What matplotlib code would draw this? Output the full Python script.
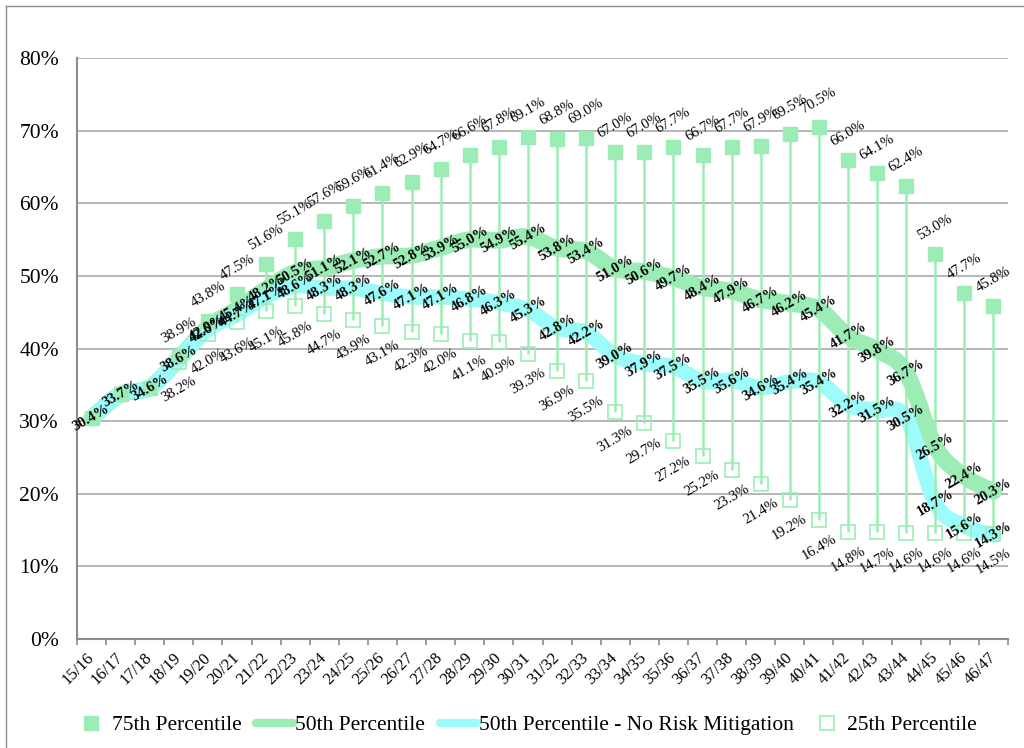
import numpy as np
import matplotlib
matplotlib.use("Agg")
import matplotlib.pyplot as plt
from matplotlib.path import Path
from matplotlib.patches import PathPatch
from matplotlib.lines import Line2D
from matplotlib.ticker import FuncFormatter, FixedLocator

plt.rcParams["font.family"] = ["Liberation Serif", "DejaVu Serif"]

SEASONS = ["15/16", "16/17", "17/18", "18/19", "19/20", "20/21", "21/22", "22/23",
           "23/24", "24/25", "25/26", "26/27", "27/28", "28/29", "29/30", "30/31",
           "31/32", "32/33", "33/34", "34/35", "35/36", "36/37", "37/38", "38/39",
           "39/40", "40/41", "41/42", "42/43", "43/44", "44/45", "45/46", "46/47"]

P75 = [30.4, 33.7, 34.6, 38.9, 43.8, 47.5, 51.6, 55.1, 57.6, 59.6, 61.4, 62.9,
       64.7, 66.6, 67.8, 69.1, 68.8, 69.0, 67.0, 67.0, 67.7, 66.7, 67.7, 67.9,
       69.5, 70.5, 66.0, 64.1, 62.4, 53.0, 47.7, 45.8]
P50 = [30.4, 33.7, 34.6, 38.6, 42.9, 45.4, 48.2, 50.5, 51.1, 52.1, 52.7, 52.8,
       53.9, 55.0, 54.9, 55.4, 53.8, 53.4, 51.0, 50.6, 49.7, 48.4, 47.9, 46.7,
       46.2, 45.4, 41.7, 39.8, 36.7, 26.5, 22.4, 20.3]
P50_NRM = [30.4, 33.7, 34.6, 38.6, 42.6, 44.7, 47.1, 48.6, 48.3, 48.3, 47.6, 47.1,
           47.1, 46.8, 46.3, 45.3, 42.8, 42.2, 39.0, 37.9, 37.5, 35.5, 35.6, 34.6,
           35.4, 35.4, 32.2, 31.5, 30.5, 18.7, 15.6, 14.3]
P25 = [None, None, None, 38.2, 42.0, 43.6, 45.1, 45.8, 44.7, 43.9, 43.1, 42.3,
       42.0, 41.1, 40.9, 39.3, 36.9, 35.5, 31.3, 29.7, 27.2, 25.2, 23.3, 21.4,
       19.2, 16.4, 14.8, 14.7, 14.6, 14.6, 14.6, 14.5]
FIRST_RANGE_LABEL = 3  # 75th/25th labels start at 18/19

GREEN = "#9BEDB5"
CYAN = "#9CFBFB"
GRID = "#A3A3A3"


def smooth_path(xs, ys):
    """Excel-style smoothed line as cubic bezier segments."""
    pts = np.column_stack([xs, ys]).astype(float)
    verts = [pts[0]]
    codes = [Path.MOVETO]
    n = len(pts)
    for i in range(n - 1):
        p0 = pts[i - 1] if i > 0 else pts[i]
        p1, p2 = pts[i], pts[i + 1]
        p3 = pts[i + 2] if i + 2 < n else pts[i + 1]
        verts += [p1 + (p2 - p0) / 6.0, p2 - (p3 - p1) / 6.0, p2]
        codes += [Path.CURVE4] * 3
    return Path(verts, codes)


x = np.arange(len(SEASONS))
p75 = np.array(P75, dtype=float)
p50 = np.array(P50, dtype=float)
nrm = np.array(P50_NRM, dtype=float)
p25 = np.array([np.nan if v is None else v for v in P25], dtype=float)

fig = plt.figure(figsize=(10.24, 7.48), dpi=100)
ax = fig.add_axes([77 / 1024, 109 / 748, 931 / 1024, 581 / 748])

# outer chart frame (top and left edges)
fig.add_artist(Line2D([6 / 1024, 1.0], [1 - 6 / 748, 1 - 6 / 748],
                      transform=fig.transFigure, color="#8C8C8C", lw=1.0))
fig.add_artist(Line2D([6 / 1024, 6 / 1024], [0.0, 1 - 6 / 748],
                      transform=fig.transFigure, color="#8C8C8C", lw=1.0))

# median bands
ax.add_patch(PathPatch(smooth_path(x, p50), fill=False, edgecolor=GREEN, lw=12,
                       capstyle="round", joinstyle="round", zorder=2))
ax.add_patch(PathPatch(smooth_path(x, nrm), fill=False, edgecolor=CYAN, lw=11,
                       capstyle="round", joinstyle="round", zorder=3))

# high-low lines across all series
stack = np.vstack([p75, p50, nrm, p25])
ax.vlines(x, np.nanmin(stack, axis=0), np.nanmax(stack, axis=0),
          color=GREEN, lw=1.8, zorder=4)

ax.plot(x, p75, ls="none", marker="s", ms=9.5, color=GREEN, zorder=5)
ax.plot(x, p25, ls="none", marker="s", ms=9.5, mfc="none", mec=GREEN, mew=1.2,
        zorder=5)

# data labels
for i in x:
    ax.annotate(f"{p50[i]:.1f}%", (i, p50[i]), ha="center", va="center",
                rotation=30, fontsize=10.5, fontweight="bold", zorder=7)
    if i > 3:
        ax.annotate(f"{nrm[i]:.1f}%", (i, nrm[i]), ha="center", va="center",
                    rotation=30, fontsize=10.5, fontweight="bold", zorder=7)
    if i >= FIRST_RANGE_LABEL:
        ax.annotate(f"{p75[i]:.1f}%", (i, p75[i]), xytext=(0, 19),
                    textcoords="offset points", ha="center", va="center",
                    rotation=30, fontsize=10.5, zorder=7)
        ax.annotate(f"{p25[i]:.1f}%", (i, p25[i]), xytext=(0, -20),
                    textcoords="offset points", ha="center", va="center",
                    rotation=30, fontsize=10.5, zorder=7)

ax.set_xlim(-0.5, len(SEASONS) - 0.5)
ax.set_ylim(0, 80)
ax.yaxis.set_major_locator(FixedLocator(np.arange(0, 81, 10)))
ax.yaxis.set_major_formatter(FuncFormatter(lambda v, _: f"{v:.0f}%"))
ax.grid(axis="y", color=GRID, lw=1.1)
ax.set_axisbelow(True)
ax.tick_params(axis="y", length=0, pad=13, labelsize=15.5)

ax.set_xticks(x)
ax.set_xticklabels(SEASONS, rotation=45, ha="right", rotation_mode="anchor",
                   va="center", fontsize=12)
ax.set_xticks(np.arange(-0.5, len(SEASONS)), minor=True)
ax.tick_params(axis="x", which="major", length=0, pad=12)
ax.tick_params(axis="x", which="minor", length=4, width=1.2, color="#8C8C8C",
               direction="out")

for side in ("top", "right"):
    ax.spines[side].set_visible(False)
for side in ("left", "bottom"):
    ax.spines[side].set_color("#8C8C8C")
    ax.spines[side].set_linewidth(1.5)

handles = [
    Line2D([], [], ls="none", marker="s", ms=9.5, color=GREEN),
    Line2D([], [], color=GREEN, lw=6, solid_capstyle="round"),
    Line2D([], [], color=CYAN, lw=6, solid_capstyle="round"),
    Line2D([], [], ls="none", marker="s", ms=9.5, mfc="none", mec=GREEN, mew=1.2),
]
labels = ["75th Percentile", "50th Percentile",
          "50th Percentile - No Risk Mitigation", "25th Percentile"]
fig.legend(handles, labels, loc="center", bbox_to_anchor=(525 / 1024, 1 - 725 / 748),
           ncol=4, frameon=False, fontsize=15.5, handlelength=1.7,
           handletextpad=0.1, columnspacing=0.7, borderaxespad=0)

fig.savefig("out.png", dpi=100)
